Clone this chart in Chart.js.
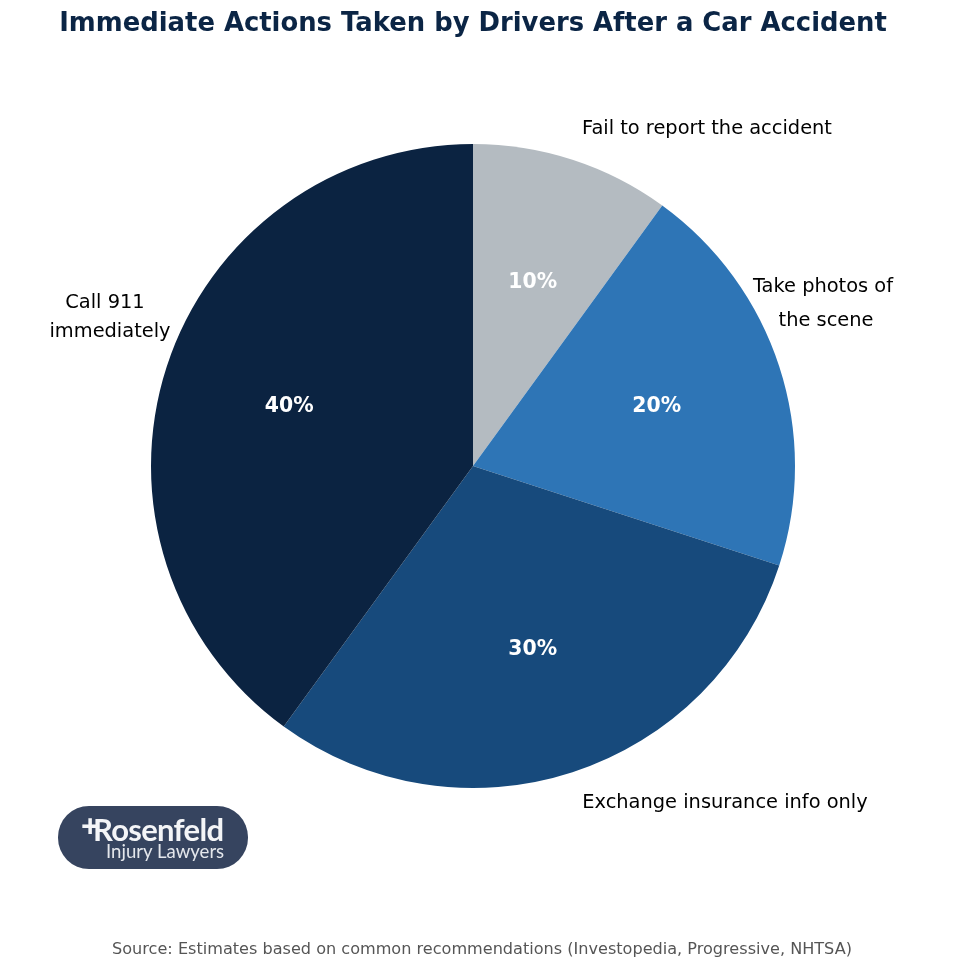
<!DOCTYPE html>
<html>
<head>
<meta charset="utf-8">
<style>
  html, body { margin: 0; padding: 0; background: #fff; }
  #wrap { position: relative; width: 980px; height: 980px; overflow: hidden; }
  canvas { position: absolute; left: 0; top: 0; }
  .t { position: absolute; font-family: "DejaVu Sans", sans-serif; white-space: nowrap; }
  #badge { position: absolute; left: 58px; top: 806px; width: 190px; height: 63px; border-radius: 31px; background: #36445f; }
  #badge span { position: absolute; white-space: nowrap; line-height: 1; }
  #bplus { left: 23px; top: 4px; color: #f4f5f7; font: bold 32px "Open Sans", sans-serif; }
  #b1 { left: 35px; top: 8px; color: #f4f5f7; font: bold 31px "Lato", sans-serif; letter-spacing: -0.7px; }
  #b2 { left: 48px; top: 36px; color: #e4e7ec; font: 18.6px "Lato", sans-serif; }
</style>
</head>
<body>
<div id="wrap">
  <canvas id="chart" width="980" height="980"></canvas>
  <div class="t" style="left:0;width:946px;text-align:center;top:7px;font-size:25.85px;font-weight:bold;color:#0b2545;">Immediate Actions Taken by Drivers After a Car Accident</div>
  <div id="badge"><span id="bplus">+</span><span id="b1">Rosenfeld</span><span id="b2">Injury Lawyers</span></div>
  <div class="t" style="left:0;width:964px;text-align:center;top:939px;font-size:16.1px;color:#555;">Source: Estimates based on common recommendations (Investopedia, Progressive, NHTSA)</div>
</div>
<script src="https://cdn.jsdelivr.net/npm/chart.js@4"></script>
<script>
const categories = ['Fail to report the accident', 'Take photos of the scene', 'Exchange insurance info only', 'Call 911 immediately'];
const shares = [10, 20, 30, 40];
const sliceColors = ['#b4bbc1', '#2e75b6', '#174a7c', '#0b2341'];
const labelLines = ['Fail to report the accident', 'Take photos of', 'the scene', 'Exchange insurance info only', 'Call 911', 'immediately'];

// percent inside each slice + the category labels outside, drawn on top of the arcs
const linePos = [[707, 129], [823, 287], [826, 321], [725, 803], [105, 303], [110, 332]];

const labelPlugin = {
  id: 'sliceLabels',
  afterDatasetsDraw(chart) {
    const ctx = chart.ctx;
    ctx.save();
    ctx.textAlign = 'center';
    ctx.textBaseline = 'middle';
    ctx.fillStyle = '#ffffff';
    ctx.font = 'bold 20.4px "DejaVu Sans"';
    chart.getDatasetMeta(0).data.forEach((arc, i) => {
      const mid = (arc.startAngle + arc.endAngle) / 2;
      const r = arc.outerRadius * 0.6;
      ctx.fillText(shares[i] + '%', arc.x + Math.cos(mid) * r, arc.y + Math.sin(mid) * r);
    });
    ctx.fillStyle = '#000000';
    ctx.font = '19.4px "DejaVu Sans"';
    labelLines.forEach((line, i) => {
      ctx.fillText(line, linePos[i][0], linePos[i][1]);
    });
    ctx.restore();
  }
};

new Chart(document.getElementById('chart'), {
  type: 'pie',
  data: {
    labels: categories,
    datasets: [{
      data: shares,
      backgroundColor: sliceColors,
      borderWidth: 0
    }]
  },
  options: {
    responsive: false,
    animation: false,
    devicePixelRatio: 1,
    layout: { padding: { top: 144, left: 151, right: 185, bottom: 192 } },
    plugins: {
      legend: { display: false },
      tooltip: { enabled: false }
    }
  },
  plugins: [labelPlugin]
});
</script>
</body>
</html>
